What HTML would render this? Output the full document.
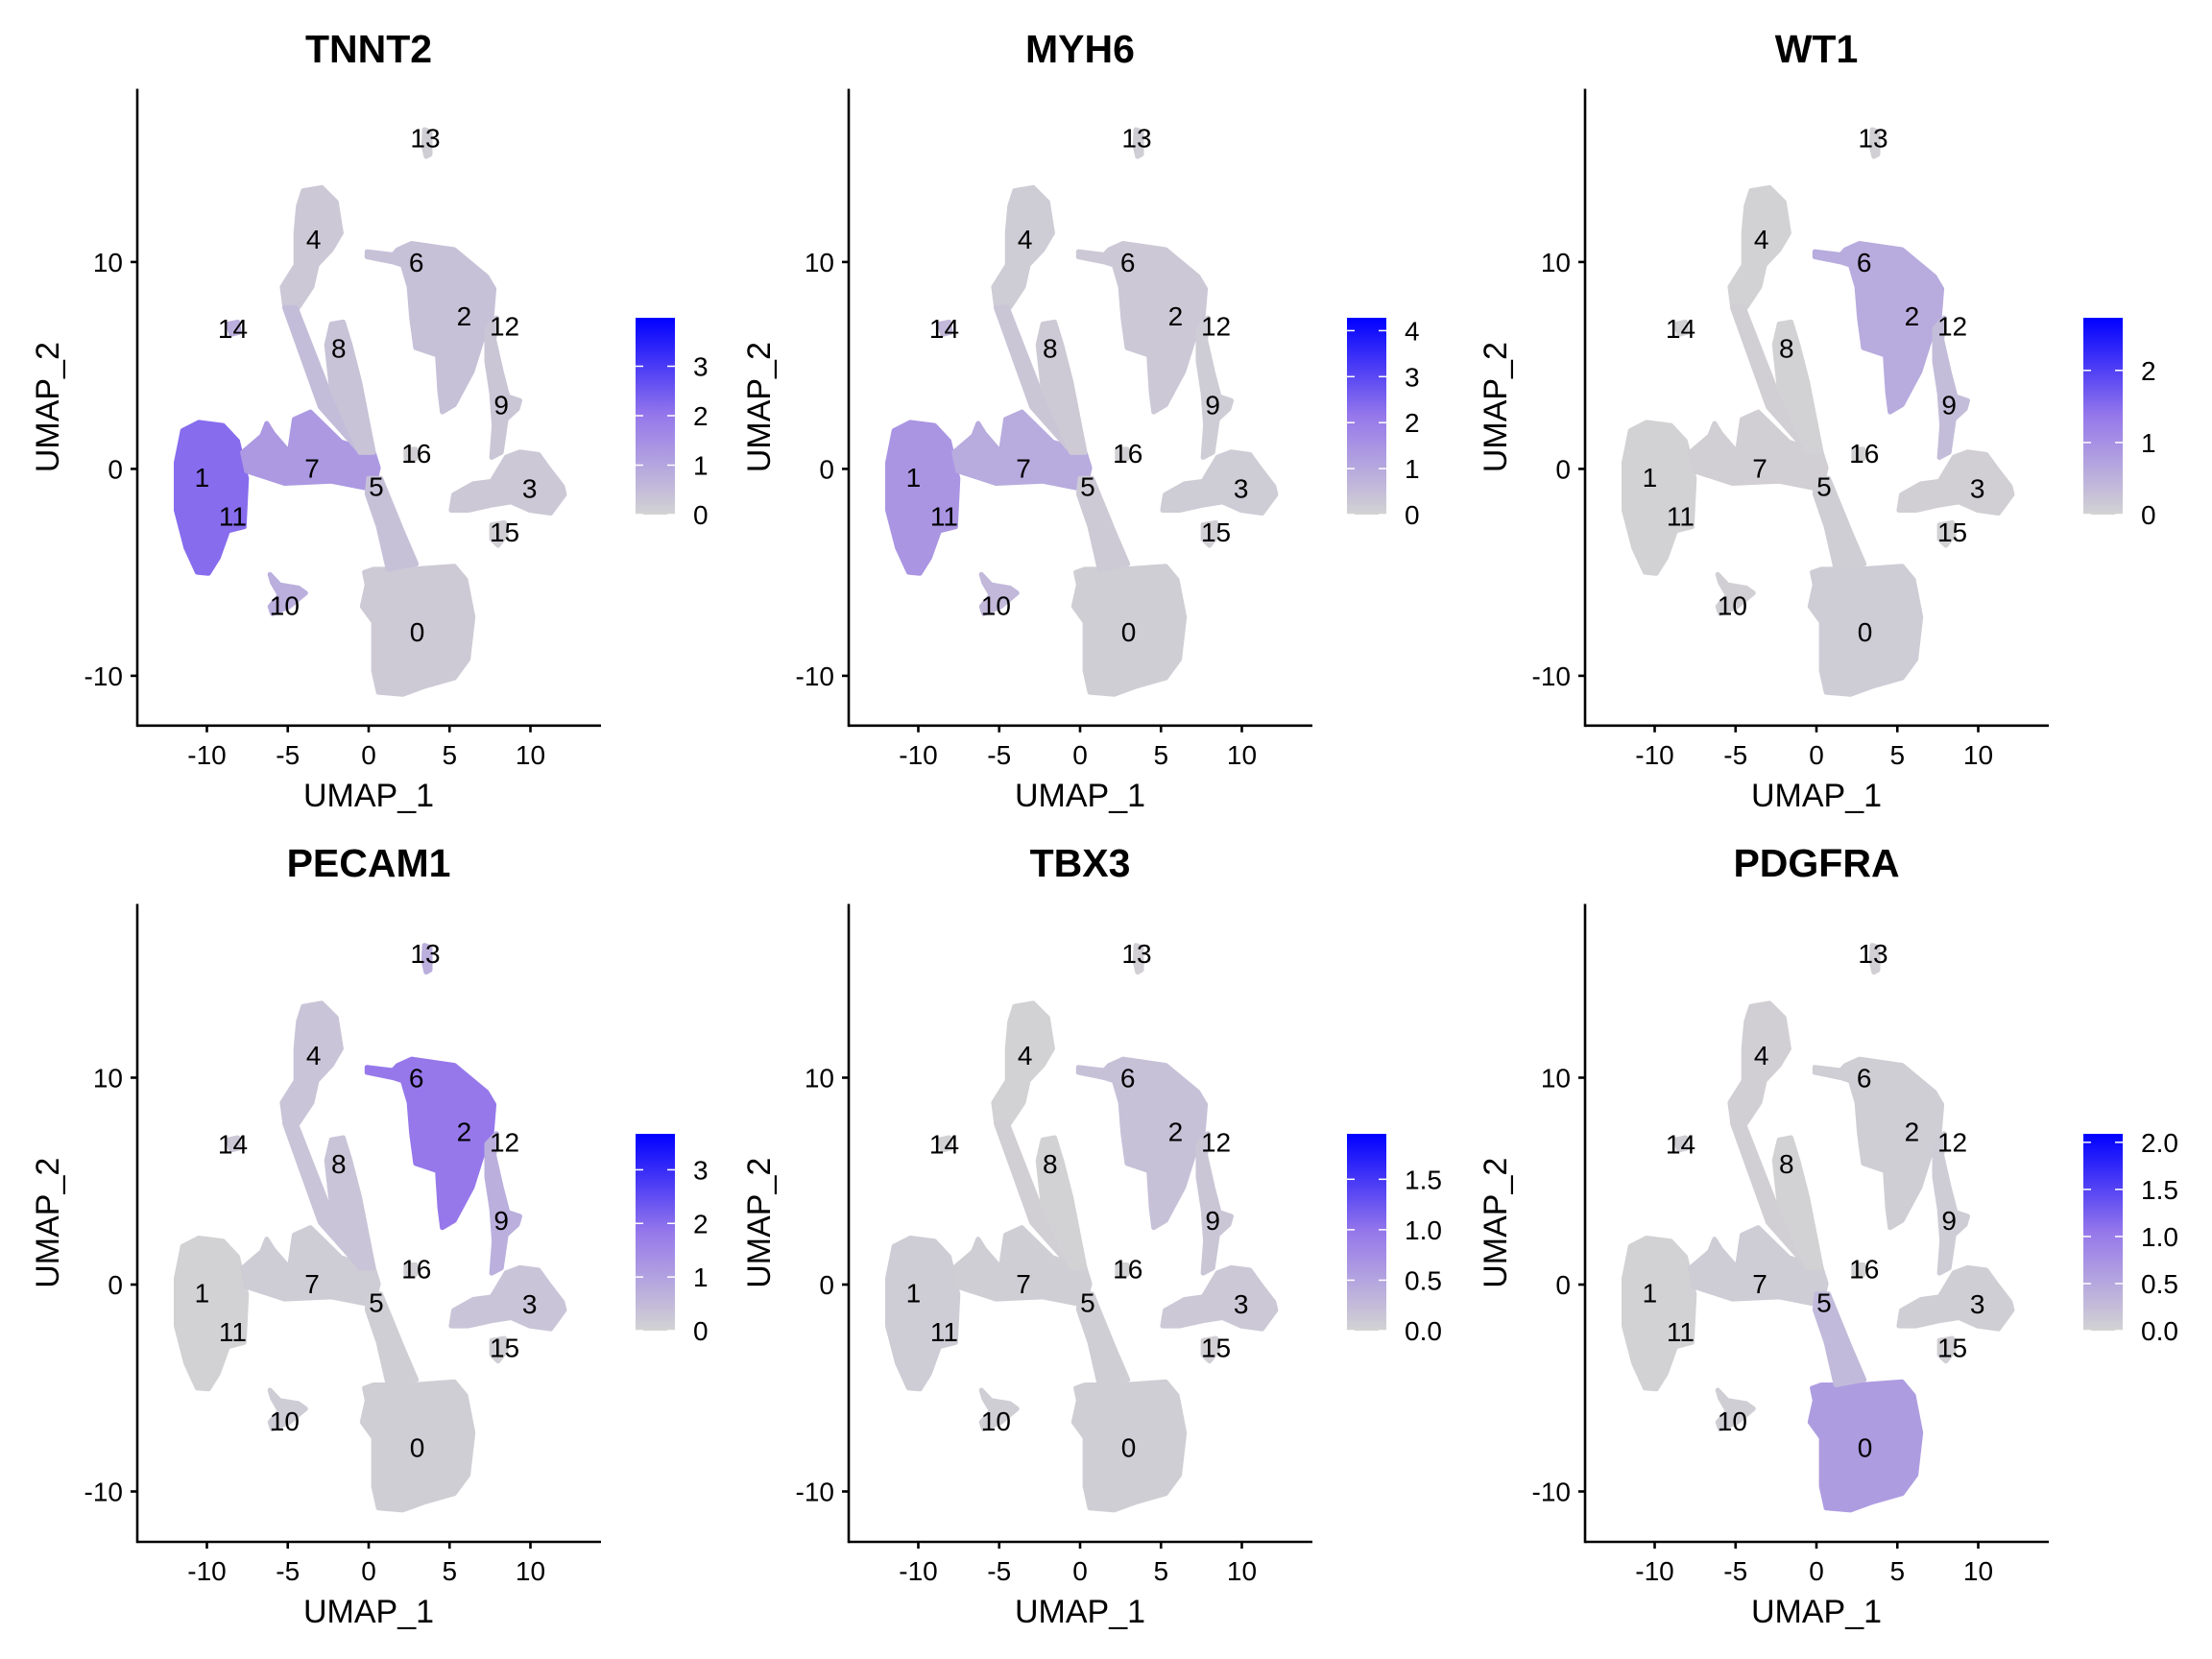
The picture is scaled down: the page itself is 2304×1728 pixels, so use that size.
<!DOCTYPE html>
<html><head><meta charset="utf-8"><style>
html,body{margin:0;padding:0;background:#fff;}
svg{display:block;font-family:"Liberation Sans",Arial,sans-serif;}
</style></head><body>
<svg id="fig" width="2304" height="1728" viewBox="0 0 2304 1728" xmlns="http://www.w3.org/2000/svg"></svg>
<script>
// ---- data ----
const genes = ["TNNT2","MYH6","WT1","PECAM1","TBX3","PDGFRA"];
const scaleMax = [3.98,4.28,2.73,3.67,1.95,2.09];
const legendTicks = [["0","1","2","3"],["0","1","2","3","4"],["0","1","2"],["0","1","2","3"],["0.0","0.5","1.0","1.5"],["0.0","0.5","1.0","1.5","2.0"]];
const legendTickValues = [[0,1,2,3],[0,1,2,3,4],[0,1,2],[0,1,2,3],[0,0.5,1,1.5],[0,0.5,1,1.5,2]];
const xTicks = [-10,-5,0,5,10];
const yTicks = [-10,0,10];
const regionNames = ["c1","bridge7","c0","stalk5","c4","stem4","c8","c6-2","chain12-9","c3","c15","c13","c14","c10","c16"];
const regionShapes = [
 [[-11.9,0.3],[-11.5,1.85],[-10.5,2.25],[-9,2.1],[-8.1,1.35],[-7.55,-0.46],[-7.7,-2.8],[-8.7,-3],[-9.3,-4.3],[-9.9,-5.05],[-10.6,-5],[-11.3,-3.8],[-11.9,-2]],
 [[-7.8,0.8],[-6.6,1.6],[-6.3,2.2],[-5.9,1.7],[-4.9,0.8],[-4.6,2.4],[-3.6,2.75],[-1.7,1.3],[0.3,0.8],[0.6,0.05],[0.3,-1],[-2.3,-0.6],[-5.2,-0.7],[-7.55,-0.1]],
 [[-0.26,-5],[0.3,-4.85],[2.65,-4.85],[5.3,-4.7],[6,-5.36],[6.45,-7.16],[6.15,-9.2],[5.3,-10.1],[3.5,-10.5],[2.1,-10.9],[0.6,-10.8],[0.3,-9.75],[0.3,-7.4],[-0.4,-6.65],[-0.1,-5.6]],
 [[0,-0.46],[0.75,-0.46],[2.07,-3],[2.95,-4.6],[1.2,-4.85],[0.6,-2.8],[-0.1,-1.2]],
 [[-4.05,13.45],[-2.9,13.6],[-2,12.9],[-1.7,11.4],[-2.3,10.6],[-3.2,9.85],[-3.5,8.8],[-4.35,7.8],[-5.2,7.9],[-5.35,8.8],[-4.5,9.85],[-4.5,11.4],[-4.35,12.7]],
 [[-5.2,7.8],[-4.5,7.8],[-2.2,3.2],[0.1,0.8],[-0.5,0.8],[-3,3.0]],
 [[-2.3,7],[-1.57,7.1],[-1.14,6],[-0.55,4.2],[-0.1,2.4],[0.3,0.8],[-0.55,0.8],[-2.3,3.9],[-2.6,6]],
 [[-0.1,10.5],[1.5,10.35],[1.8,10.6],[2.65,10.9],[5.3,10.6],[7.3,9.3],[7.75,8.7],[7.6,7.3],[7,6.2],[6.4,4.7],[5.3,3.1],[4.55,2.75],[4.4,3.7],[4.25,5.5],[3.5,5.7],[2.9,5.85],[2.65,7.3],[2.5,8.8],[2.1,9.85],[1.5,10.0],[-0.1,10.25]],
 [[7.9,7.3],[7.75,6.25],[8.2,4.7],[8.6,3.5],[9.35,3.3],[9.2,2.9],[8.5,2.4],[8.2,0.8],[7.6,0.55],[7.75,2.1],[7.6,3.65],[7.3,5.2],[7.3,6.8]],
 [[5.1,-2],[5.25,-1.25],[6.45,-0.72],[7.6,-0.6],[8.5,0.57],[9.35,0.82],[10.5,0.7],[11.1,0.05],[11.98,-0.85],[12.1,-1.24],[11.25,-2.14],[9.95,-2],[8.8,-1.6],[7.6,-1.75],[6.15,-2]],
 [[7.6,-2.7],[8.4,-2.6],[8.5,-3.2],[8.0,-3.7],[7.6,-3.4]],
 [[3.45,16.4],[3.8,16.3],[3.8,15.2],[3.55,15.1],[3.4,15.6]],
 [[-8.7,7.0],[-8.1,7.1],[-8.0,6.6],[-8.5,6.5]],
 [[-6.1,-5.1],[-5.5,-5.6],[-4.35,-5.75],[-3.9,-6],[-4.9,-6.65],[-5.95,-7],[-6.1,-6.65],[-5.5,-6.1],[-5.95,-5.5]],
 [[2.3,0.95],[2.9,0.95],[2.9,0.5],[2.3,0.5]]
];
// mean expression (fraction of colour-scale max) per region, one array per gene
const exprTNNT2  = [0.55,0.32,0.05,0.1,0.06,0.12,0.09,0.1,0.07,0.06,0.02,0.03,0.2,0.2,0.02];
const exprMYH6   = [0.34,0.22,0.03,0.05,0.04,0.07,0.05,0.06,0.04,0.04,0.02,0.03,0.15,0.15,0.02];
const exprWT1    = [0.01,0.02,0.04,0.03,0.01,0.02,0.01,0.22,0.12,0.02,0.01,0.02,0.01,0.02,0.01];
const exprPECAM1 = [0.01,0.04,0.03,0.03,0.08,0.08,0.08,0.5,0.2,0.08,0.03,0.2,0.06,0.04,0.02];
const exprTBX3   = [0.04,0.03,0.03,0.03,0.01,0.02,0.01,0.1,0.07,0.06,0.02,0.02,0.01,0.03,0.01];
const exprPDGFRA = [0.01,0.04,0.3,0.14,0.02,0.02,0.01,0.03,0.04,0.03,0.02,0.02,0.03,0.03,0.01];
const exprAll = [exprTNNT2,exprMYH6,exprWT1,exprPECAM1,exprTBX3,exprPDGFRA];
const clusterLabels = ["13","4","6","2","12","14","8","9","16","7","1","5","3","11","15","10","0"];
const clusterLabelX = [3.5,-3.4,2.95,5.9,8.4,-8.4,-1.85,8.2,2.95,-3.5,-10.3,0.47,9.95,-8.4,8.4,-5.2,3.0];
const clusterLabelY = [16.0,11.1,10.0,7.4,6.9,6.8,5.85,3.1,0.77,0.05,-0.4,-0.85,-0.93,-2.27,-3.04,-6.6,-7.86];

// ---- layout ----
const NS="http://www.w3.org/2000/svg";
const svg=document.getElementById('fig');
const colX=[143,884,1651];
const rows=[{top:92.5,bottom:755.8,y0:488.4,titleY:50,cbTop:331},{top:941.5,bottom:1606,y0:1338,titleY:898,cbTop:1181}];
const XS=16.85, YS=21.55, PW=483, CBH=205;
function mk(tag,attrs,parent){const e=document.createElementNS(NS,tag);for(const k in attrs)e.setAttribute(k,attrs[k]);(parent||svg).appendChild(e);return e;}
function mix(t){t=Math.max(0,Math.min(1,t));
  let a,b,u;
  if(t<0.5){a=[211,211,211];b=[150,120,235];u=t/0.5;}else{a=[150,120,235];b=[0,0,255];u=(t-0.5)/0.5;}
  const c=a.map((v,i)=>Math.round(v+(b[i]-v)*u));return `rgb(${c[0]},${c[1]},${c[2]})`;}

const defs=mk('defs',{});
const grad=mk('linearGradient',{id:'cb',x1:'0',y1:'1',x2:'0',y2:'0'},defs);
mk('stop',{offset:'0','stop-color':'#d3d3d3'},grad);
mk('stop',{offset:'0.5','stop-color':'#9678eb'},grad);
mk('stop',{offset:'1','stop-color':'#0000ff'},grad);

genes.forEach((gene,gi)=>{
  const row=rows[Math.floor(gi/3)], ax=colX[gi%3];
  const x0=ax+241;
  const sx=v=>x0+v*XS, sy=v=>row.y0-v*YS;
  const g=mk('g',{});
  
  
  const t=mk('text',{x:x0,y:row.titleY+15,'text-anchor':'middle','font-size':'41','font-weight':'bold',fill:'#000'},g);
  t.textContent=gene;
  
  
  regionShapes.forEach((pts,ri)=>{
    const p=mk('polygon',{points:pts.map(q=>sx(q[0]).toFixed(1)+','+sy(q[1]).toFixed(1)).join(' '),fill:mix(exprAll[gi][ri]),stroke:mix(exprAll[gi][ri]),'stroke-width':'5','stroke-linejoin':'round'},g);
    
    
  });
  clusterLabels.forEach((lab,li)=>{
    const tx=mk('text',{x:sx(clusterLabelX[li]),y:sy(clusterLabelY[li])+10,'text-anchor':'middle','font-size':'28',fill:'#000'},g);
    tx.textContent=lab;
    
    
  });
  const xa=mk('line',{x1:ax,y1:row.bottom,x2:ax+PW,y2:row.bottom,stroke:'#000','stroke-width':'2.6'},g);
  
  
  const ya=mk('line',{x1:ax,y1:row.top,x2:ax,y2:row.bottom+1.3,stroke:'#000','stroke-width':'2.6'},g);
  
  
  xTicks.forEach(v=>{
    mk('line',{x1:sx(v),y1:row.bottom,x2:sx(v),y2:row.bottom+7,stroke:'#000','stroke-width':'2.6'},g);
    const tl=mk('text',{x:sx(v),y:row.bottom+40,'text-anchor':'middle','font-size':'28',fill:'#000'},g);
    tl.textContent=String(v);
    
    
  });
  yTicks.forEach(v=>{
    mk('line',{x1:ax-7,y1:sy(v),x2:ax,y2:sy(v),stroke:'#000','stroke-width':'2.6'},g);
    const tl=mk('text',{x:ax-15,y:sy(v)+10,'text-anchor':'end','font-size':'28',fill:'#000'},g);
    tl.textContent=String(v);
    
    
  });
  const xt=mk('text',{x:x0,y:row.bottom+84,'text-anchor':'middle','font-size':'34',fill:'#000'},g);
  xt.textContent='UMAP_1';
  
  
  const ymid=(row.top+row.bottom)/2;
  const yt=mk('text',{x:0,y:0,transform:`translate(${ax-82},${ymid}) rotate(-90)`,'text-anchor':'middle','font-size':'34',fill:'#000'},g);
  yt.textContent='UMAP_2';
  
  
  const cbx=ax+519, cbw=41, cbb=row.cbTop+CBH;
  const cb=mk('rect',{x:cbx,y:row.cbTop,width:cbw,height:CBH,fill:'url(#cb)'},g);
  
  
  legendTickValues[gi].forEach((v,k)=>{
    const yy=cbb-v/scaleMax[gi]*CBH;
    mk('line',{x1:cbx,y1:yy,x2:cbx+8,y2:yy,stroke:'#fff','stroke-width':'1.5'},g);
    mk('line',{x1:cbx+cbw-8,y1:yy,x2:cbx+cbw,y2:yy,stroke:'#fff','stroke-width':'1.5'},g);
    const lt=mk('text',{x:ax+579,y:yy+10,'font-size':'28',fill:'#000'},g);
    lt.textContent=legendTicks[gi][k];
    
    
  });
});
</script>
</body></html>
